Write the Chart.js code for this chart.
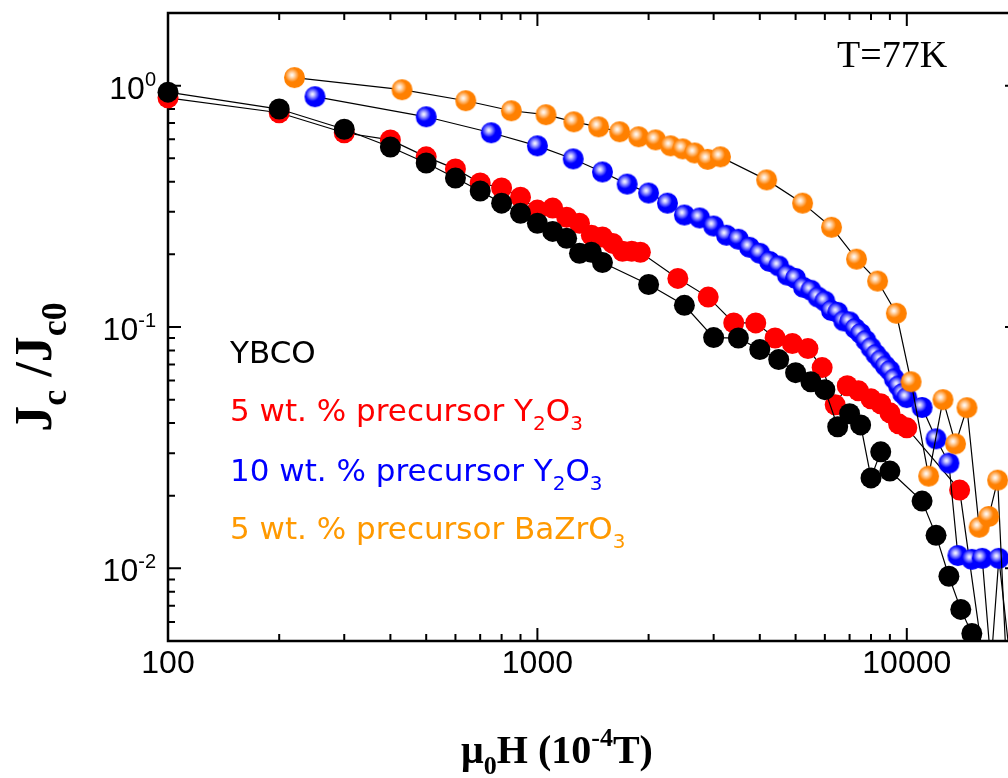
<!DOCTYPE html>
<html><head><meta charset="utf-8">
<script src="https://cdn.jsdelivr.net/npm/chart.js@4.4.0/dist/chart.umd.min.js"></script>
<style>
html,body{margin:0;padding:0;background:#fff;overflow:hidden;width:1008px;height:778px}
#wrap{position:absolute;left:0;top:0;width:1040px;height:778px}
</style></head>
<body><div id="wrap"><canvas id="c" width="1040" height="778"></canvas></div>
<script>
// ---- data (field in 1e-4 T, normalized Jc) ----
const ybcoH = [100,200,300,400,500,600,700,800,900,1000,1100,1200,1300,1400,1500,2000,2500,3000,3500,4000,4500,5000,5500,6000,6500,7000,7500,8000,8500,9000,11000,12000,13000,14000,15000,16000];
const ybcoJ = [0.94,0.80,0.66,0.557,0.478,0.414,0.366,0.326,0.296,0.269,0.249,0.233,0.202,0.204,0.185,0.150,0.123,0.0904,0.090,0.0806,0.0733,0.0647,0.0593,0.055,0.0386,0.0437,0.0393,0.0237,0.0304,0.0253,0.019,0.0137,0.00927,0.00676,0.00537,0.003];

const y5H = [100,200,300,400,500,600,700,800,900,1000,1100,1200,1300,1400,1500,1600,1700,1800,1900,2400,2900,3400,3900,4400,4900,5400,5900,6400,6900,7400,8000,8500,9000,9500,10000,13900,16000];
const y5J = [0.89,0.772,0.638,0.596,0.507,0.452,0.395,0.377,0.345,0.305,0.311,0.285,0.269,0.240,0.236,0.222,0.206,0.206,0.204,0.159,0.133,0.104,0.104,0.090,0.0854,0.0814,0.0679,0.0476,0.0571,0.0544,0.0504,0.0481,0.0441,0.0397,0.0382,0.0211,0.0045];

const y10H = [250,500,750,1000,1250,1500,1750,2000,2250,2500,2750,3000,3250,3500,3750,4000,4250,4500,4750,5000,5250,5500,5750,6000,6250,6500,6750,7000,7250,7500,7750,8000,8250,8500,8750,9000,9250,9500,9750,10000,11000,12000,13000,13750,15000,16000,16900,17750,19500];
const y10J = [0.90,0.743,0.638,0.563,0.497,0.439,0.391,0.359,0.326,0.291,0.283,0.262,0.240,0.231,0.214,0.202,0.187,0.179,0.164,0.159,0.146,0.142,0.133,0.128,0.117,0.115,0.106,0.105,0.0986,0.094,0.088,0.082,0.077,0.073,0.069,0.066,0.061,0.057,0.053,0.051,0.0464,0.0344,0.0273,0.0113,0.0109,0.0110,0.004,0.011,0.003];

const bzoH = [220,430,640,850,1055,1255,1465,1670,1880,2090,2295,2475,2665,2890,3130,4175,5222,6256,7311,8334,9368,10270,11460,12530,13550,14550,15700,16670,17620,19000];
const bzoJ = [1.08,0.962,0.866,0.787,0.758,0.708,0.675,0.644,0.614,0.596,0.563,0.547,0.526,0.495,0.507,0.407,0.326,0.259,0.191,0.155,0.114,0.0593,0.0241,0.050,0.0328,0.0463,0.0148,0.0164,0.0232,0.002];

const xTickValues = [100, 1000, 10000];
const yTickValues = [1, 0.1, 0.01];
const yTickExp = ['0', '-1', '-2'];
const legendLines = [
  {color:'#000000', parts:[{t:'YBCO'}]},
  {color:'#ff0000', parts:[{t:'5 wt. % precursor Y'},{t:'2',sub:1},{t:'O'},{t:'3',sub:1}]},
  {color:'#0000ff', parts:[{t:'10 wt. % precursor Y'},{t:'2',sub:1},{t:'O'},{t:'3',sub:1}]},
  {color:'#ff9900', parts:[{t:'5 wt. % precursor BaZrO'},{t:'3',sub:1}]}
];

function sphere(color){
  const c = document.createElement('canvas'); c.width = 23; c.height = 23;
  const g = c.getContext('2d');
  g.beginPath(); g.arc(11.5,11.5,10.5,0,Math.PI*2); g.fillStyle = color; g.fill();
  const gr = g.createRadialGradient(9,9,0,9,9,7);
  gr.addColorStop(0,'rgba(255,255,255,1)');
  gr.addColorStop(0.3,'rgba(255,255,255,0.75)');
  gr.addColorStop(1,'rgba(255,255,255,0)');
  g.beginPath(); g.arc(11.5,11.5,10.5,0,Math.PI*2); g.fillStyle = gr; g.fill();
  return c;
}
const pts = (xs, ys) => xs.map((x,i)=>({x, y: ys[i]}));

function drawRich(ctx, parts, x, y, size, family, weight, align, subScale){
  const subSize = Math.round(size*(subScale||0.65));
  const fontOf = (p) => `${weight} ${p.sub||p.sup ? subSize : size}px ${family}`;
  let w = 0;
  parts.forEach(p => { ctx.font = fontOf(p); w += ctx.measureText(p.t).width; });
  let cx = align === 'center' ? x - w/2 : (align === 'right' ? x - w : x);
  ctx.textAlign = 'left'; ctx.textBaseline = 'alphabetic';
  parts.forEach(p => {
    ctx.font = fontOf(p);
    let dy = p.sub ? size*0.28 : (p.sup ? -size*0.42 : 0);
    ctx.fillText(p.t, cx, y + dy);
    cx += ctx.measureText(p.t).width;
  });
  return w;
}

const framePlugin = {
  id: 'frame',
  beforeDatasetsDraw(chart){
    const {ctx, chartArea:a, scales:{x, y}} = chart;
    ctx.save();
    ctx.strokeStyle = '#000'; ctx.lineWidth = 2.5;
    ctx.strokeRect(a.left, a.top, a.right - a.left, a.bottom - a.top);
    ctx.lineWidth = 2;
    for (let d = 100; d <= 10000; d *= 10) {
      for (let m = 1; m <= 9; m++) {
        const v = d*m; if (v < x.min || v > x.max) continue;
        const px = x.getPixelForValue(v); const L = m === 1 ? 13 : 7;
        ctx.beginPath(); ctx.moveTo(px, a.bottom); ctx.lineTo(px, a.bottom - L);
        ctx.moveTo(px, a.top); ctx.lineTo(px, a.top + L); ctx.stroke();
      }
    }
    for (let d = 0.001; d <= 1; d *= 10) {
      for (let m = 1; m <= 9; m++) {
        const v = d*m; if (v < y.min*0.999 || v > y.max*1.001) continue;
        const py = y.getPixelForValue(v); const L = m === 1 ? 13 : 7;
        ctx.beginPath(); ctx.moveTo(a.left, py); ctx.lineTo(a.left + L, py);
        ctx.moveTo(a.right, py); ctx.lineTo(a.right - L, py); ctx.stroke();
      }
    }
    ctx.restore();
  },
  afterDraw(chart){
    const {ctx, scales:{y}} = chart;
    ctx.save(); ctx.fillStyle = '#000';
    yTickValues.forEach((v,i) => {
      const py = y.getPixelForValue(v);
      ctx.font = '32px "Liberation Sans", Arial, sans-serif';
      const w1 = ctx.measureText('10').width;
      ctx.font = '20px "Liberation Sans", Arial, sans-serif';
      const w2 = ctx.measureText(yTickExp[i]).width;
      const right = 156;
      ctx.textAlign = 'left'; ctx.textBaseline = 'alphabetic';
      ctx.font = '32px "Liberation Sans", Arial, sans-serif';
      ctx.fillText('10', right - w2 - w1, py + 13);
      ctx.font = '20px "Liberation Sans", Arial, sans-serif';
      ctx.fillText(yTickExp[i], right - w2, py);
    });
    const serif = '"Liberation Serif", "Times New Roman", serif';
    drawRich(ctx, [{t:'\u03bc'},{t:'0',sub:1},{t:'H (10'},{t:'-4',sup:1},{t:'T)'}], 557, 763, 40, serif, 'bold', 'center');
    ctx.save();
    ctx.translate(51, 367); ctx.rotate(-Math.PI/2);
    drawRich(ctx, [{t:'J'},{t:'c',sub:1},{t:' /J'},{t:'c0',sub:1}], 0, 0, 52, serif, 'bold', 'center', 0.7);
    ctx.restore();
    ctx.font = '38px ' + serif;
    ctx.textAlign = 'left'; ctx.textBaseline = 'alphabetic';
    ctx.fillText('T=77K', 837, 67);
    const baselines = [363, 421, 481, 539];
    legendLines.forEach((l,i) => {
      ctx.fillStyle = l.color;
      drawRich(ctx, l.parts, 230, baselines[i], 31, '"DejaVu Sans", sans-serif', 'normal', 'left');
    });
    ctx.restore();
  }
};

const lineCommon = {showLine:true, borderColor:'#000', borderWidth:1.2, clip:{left:14, top:0, right:40, bottom:0}};
new Chart(document.getElementById('c'), {
  type: 'scatter',
  data: { datasets: [
    {...lineCommon, label:'5 wt. % precursor BaZrO3', data: pts(bzoH, bzoJ), pointStyle: sphere('#ff8000'), order:0},
    {...lineCommon, label:'10 wt. % precursor Y2O3', data: pts(y10H, y10J), pointStyle: sphere('#0000ff'), order:1},
    {...lineCommon, label:'YBCO', data: pts(ybcoH, ybcoJ), pointRadius:10.5, pointBackgroundColor:'#000', pointBorderWidth:0, order:2},
    {...lineCommon, label:'5 wt. % precursor Y2O3', data: pts(y5H, y5J), pointRadius:10.5, pointBackgroundColor:'#ff0000', pointBorderWidth:0, order:3}
  ]},
  options: {
    responsive:false, animation:false, devicePixelRatio:1,
    layout:{padding:{top:13, right:22, left:0, bottom:0}},
    plugins:{legend:{display:false}, tooltip:{enabled:false}},
    scales:{
      x:{type:'logarithmic', min:100, max:20000,
         grid:{display:false, drawTicks:false}, border:{display:false},
         afterBuildTicks: s => { s.ticks = xTickValues.map(v => ({value:v})); },
         afterFit: s => { s.height = 137; },
         ticks:{autoSkip:false, maxRotation:0, padding:4, color:'#000',
                font:{family:'"Liberation Sans", Arial, sans-serif', size:32},
                callback: v => String(v)}},
      y:{type:'logarithmic', min:0.005, max:2,
         grid:{display:false, drawTicks:false}, border:{display:false},
         afterFit: s => { s.width = 168; },
         ticks:{display:false}}
    }
  },
  plugins:[framePlugin]
});
</script></body></html>
